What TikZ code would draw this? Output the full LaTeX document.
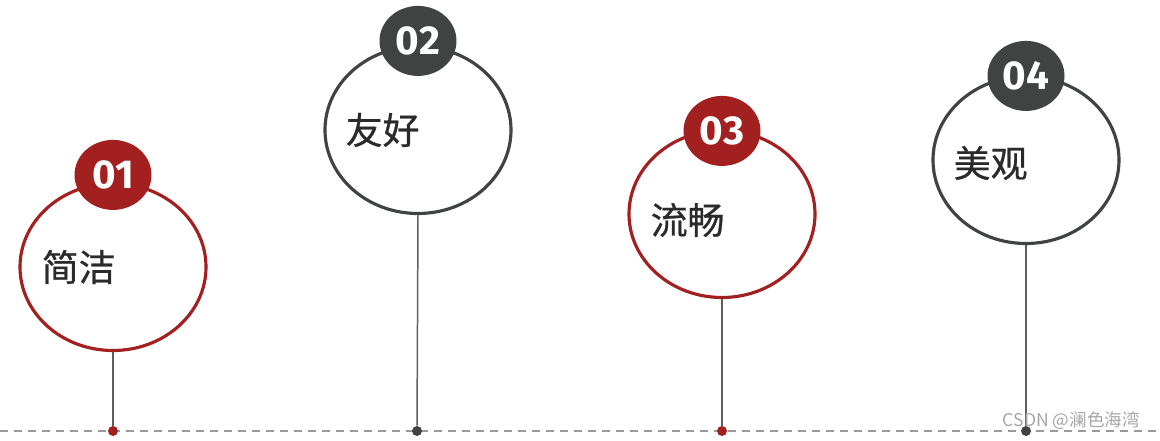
\documentclass[tikz,border=0pt]{standalone}
\usepackage{fontspec}
\usepackage{xcolor}
\usepackage{tikz}
\usetikzlibrary{shapes.geometric,positioning}
\newfontfamily\cjk{Noto Sans CJK SC}
\newfontfamily\cjkword{Noto Sans CJK SC}[FakeBold=0.6]
\newfontfamily\numfont{Fira Sans}
\definecolor{brick}{HTML}{A32020}
\definecolor{slate}{HTML}{404342}
\definecolor{ink}{HTML}{2A2A2A}

\begin{document}
\begin{tikzpicture}[
  every node/.style={font=\cjk},
  ring/.style={draw, ellipse, line width=1.8pt, fill=white,
               minimum width=3.72cm, minimum height=3.34cm, inner sep=0pt},
  badge/.style={ellipse, inner sep=0pt, minimum width=1.54cm, minimum height=1.40cm,
                text=white, font=\numfont\bfseries\fontsize{23}{27}\selectfont},
  word/.style={anchor=west, text=ink, inner sep=0pt, font=\cjkword\fontsize{21}{25}\selectfont},
  dot/.style={circle, inner sep=0pt, minimum size=0.2cm},
  stem/.style={draw=slate!85, line width=0.85pt}
]
\useasboundingbox (0,0) rectangle (23.2,8.8);

% baseline
\coordinate (lineL) at (0,0.18);
\coordinate (lineR) at (23.2,0.18);
\draw[gray!80, line width=0.8pt, dash pattern=on 0.16cm off 0.12cm] (lineL) -- (lineR);

% 01
\node[ring, draw=brick] (r1) at (2.26,3.46) {};
\node[badge, fill=brick] (b1) at ([yshift=0.14cm]r1.north) {01};
\node[word, right=0.46cm of r1.west] (w1) {简洁};
\node[dot, fill=brick] (d1) at (2.26,0.18) {};

% 02
\node[ring, draw=slate] (r2) at (8.36,6.20) {};
\node[badge, fill=slate] (b2) at ([yshift=0.08cm]r2.north) {02};
\node[word, right=0.44cm of r2.west] (w2) {友好};
\node[dot, fill=slate] (d2) at (8.34,0.18) {};

% 03
\node[ring, draw=brick] (r3) at (14.44,4.52) {};
\node[badge, fill=brick] (b3) at ([yshift=-0.04cm]r3.north) {03};
\node[word, right=0.46cm of r3.west, yshift=-0.12cm] (w3) {流畅};
\node[dot, fill=brick] (d3) at (14.44,0.18) {};

% 04
\node[ring, draw=slate] (r4) at (20.52,5.60) {};
\node[badge, fill=slate] (b4) at ([yshift=-0.02cm]r4.north) {04};
\node[word, right=0.44cm of r4.west, yshift=-0.06cm] (w4) {美观};
\node[dot, fill=slate] (d4) at (20.52,0.18) {};

\draw[stem] (r1.south) -- (d1);
\draw[stem] (r2.south) -- (d2);
\draw[stem] (r3.south) -- (d3);
\draw[stem] (r4.south) -- (d4);

\node[anchor=east, text=gray!70, font=\cjk\fontsize{10}{12}\selectfont] (mark) at (22.92,0.38) {CSDN @澜色海湾};
\end{tikzpicture}
\end{document}
